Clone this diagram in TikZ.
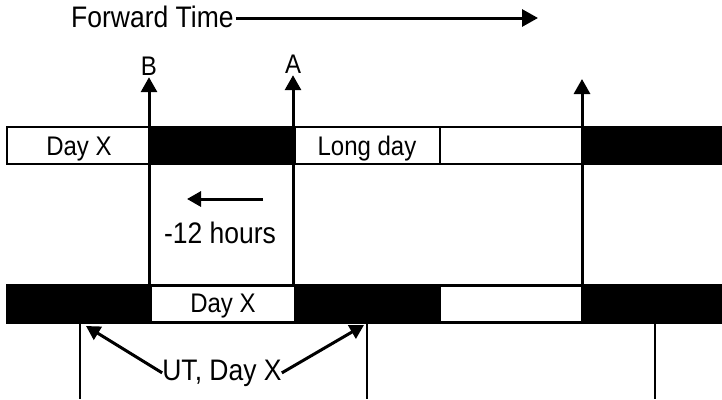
\documentclass[tikz,border=0pt]{standalone}
\usepackage{graphicx}
\usepackage{fontspec}
\setmainfont{Liberation Sans}
\usetikzlibrary{arrows.meta}
\newcommand{\tallt}[1]{\scalebox{1}[1.12]{#1}}
\begin{document}
\begin{tikzpicture}[x=1pt,y=-1pt,
  txt/.style={inner sep=0pt,font=\fontsize{24}{28}\selectfont},
  bigtxt/.style={inner sep=0pt,font=\fontsize{26.5}{30}\selectfont},
  lbl/.style={inner sep=2pt,font=\fontsize{24}{28}\selectfont},
  bigarrow/.style={line width=3pt,-{Triangle[length=16pt,width=17pt]}},
  varrow/.style={line width=3pt,-{Triangle[length=15pt,width=16pt]}},
  midarrow/.style={line width=3pt,-{Triangle[length=14pt,width=15pt]}},
  barline/.style={line width=1.5pt},
  thinline/.style={line width=1.6pt}]
\path[fill=white,use as bounding box] (0,0) rectangle (722,399);

% top bar
\filldraw[barline,fill=white] (7,127) rectangle (149,164);
\filldraw[barline,fill=black] (149,127) rectangle (295,164);
\filldraw[barline,fill=white] (295,127) rectangle (440,164);
\filldraw[barline,fill=white] (440,127) rectangle (582,164);
\filldraw[barline,fill=black] (582,127) rectangle (724,164);

% bottom bar
\filldraw[barline,fill=black] (7,285) rectangle (724,323);
\filldraw[barline,fill=white] (151,286) rectangle (295,322);
\filldraw[barline,fill=white] (440,286) rectangle (582,322);

% thin lines below
\draw[thinline] (80,323) -- (80,399);
\draw[thinline] (367,323) -- (367,399);
\draw[thinline] (655,323) -- (655,399);

% texts
\node[txt,anchor=base] (dayxtop) at (79,155) {\tallt{Day X}};
\node[txt,anchor=base] (longday) at (367,155) {\tallt{Long day}};
\node[txt,anchor=base] (dayxbot) at (223,312) {\tallt{Day X}};
\node[bigtxt,anchor=base] (hours) at (220,243) {\tallt{-12 hours}};
\node[bigtxt,anchor=base] (ut) at (222,380) {\tallt{UT, Day X}};
\node[bigtxt,anchor=base west] (ft) at (71,27) {\tallt{Forward Time}};
\node[lbl,anchor=base] (B) at (149,75) {\tallt{B}};
\node[lbl,anchor=base] (A) at (293,73) {\tallt{A}};

% forward time arrow
\coordinate (fthead) at (538,18);
\draw[bigarrow] ([xshift=2pt]ft.east |- fthead) -- (fthead);

% vertical arrows
\coordinate (b0) at (149,285);
\coordinate (a0) at (293,285);
\coordinate (c0) at (582,285);
\coordinate (ctip) at (582,79);
\draw[varrow] (b0) -- (B);
\draw[varrow] (a0) -- (A);
\draw[varrow] (c0) -- (ctip);

% -12 hours arrow
\coordinate (hstart) at (263,199);
\coordinate (hend) at (187,199);
\draw[midarrow] (hstart) -- (hend);

% UT arrows
\coordinate (utl) at (86,326);
\coordinate (utr) at (364,325);
\draw[midarrow] (ut.west) -- (utl);
\draw[midarrow] (ut.east) -- (utr);
\end{tikzpicture}
\end{document}
